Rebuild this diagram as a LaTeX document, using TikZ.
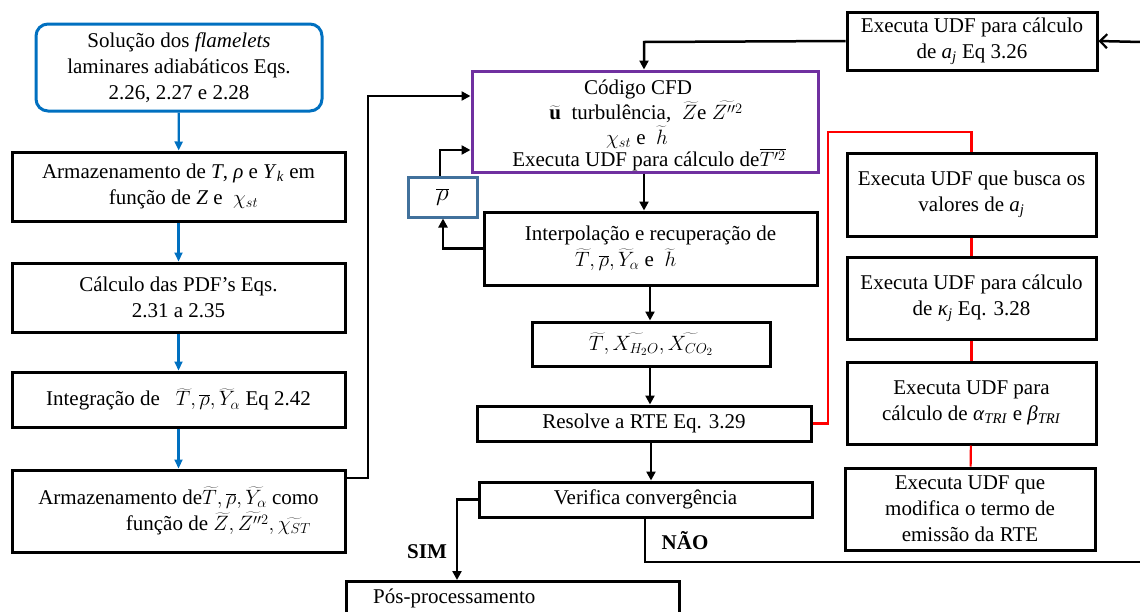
\documentclass[tikz,border=0pt]{standalone}
\usepackage{fontspec}
\setmainfont{Liberation Serif}
\usetikzlibrary{arrows.meta}
\definecolor{myblue}{HTML}{0070C0}
\definecolor{rhoblue}{HTML}{41719C}
\definecolor{mypurple}{HTML}{7030A0}
\definecolor{myred}{HTML}{FF0000}
\tikzset{
  txt/.style={font=\fontsize{21}{26}\selectfont, inner sep=0pt},
  box/.style={txt, draw, line width=3pt, align=center},
  bluebox/.style={box, draw=myblue, rounded corners=12pt},
  rhobox/.style={box, draw=rhoblue},
  cfdbox/.style={box, draw=mypurple},
  conn/.style={line width=2.5pt, -{Triangle[length=9pt,width=9pt]}},
  plainconn/.style={line width=2.5pt},
  blueconn/.style={line width=2.2pt, draw=myblue, -{Triangle[length=9pt,width=8pt]}},
  redconn/.style={line width=2.2pt, draw=myred},
  lbl/.style={font=\fontsize{21}{26}\selectfont\bfseries, inner sep=0pt}
}
\begin{document}
\begin{tikzpicture}[x=1pt,y=-1pt]
\useasboundingbox (0,0) rectangle (1140,611);
\clip (0,0) rectangle (1140,611);
% left column
\node[bluebox, minimum width=286pt, minimum height=87pt] (b1) at (179,67.5)
  {Solução dos \textit{flamelets}\\ laminares adiabáticos Eqs.\\ 2.26, 2.27 e 2.28};
\node[box, minimum width=333pt, minimum height=69pt] (b2) at (178.5,186.5)
  {Armazenamento de \textit{T}, \textit{ρ} e \textit{Y}\textsubscript{\textit{k}} em\\ \hspace*{10pt}função de \textit{Z} e \ $\chi_{st}$};
\node[box, minimum width=333pt, minimum height=69pt] (b3) at (178.5,297.5)
  {Cálculo das PDF’s Eqs.\\ 2.31 a 2.35};
\node[box, minimum width=333pt, minimum height=55pt] (b4) at (178.5,399.5)
  {Integração de \ \ $\widetilde{T},\overline{\rho},\widetilde{Y}_{\alpha}$ Eq 2.42};
\node[box, minimum width=333pt, minimum height=82pt, align=right] (b5) at (178.5,511)
  {Armazenamento de$\widetilde{T},\overline{\rho},\widetilde{Y_{\alpha}}$ como\\ função de $\widetilde{Z},\widetilde{Z''^2},\widetilde{\chi_{ST}}$\hspace*{8pt}};
% middle column
\node[cfdbox, minimum width=346pt, minimum height=101pt] (cfd) at (645,121.5) {};
\node[txt, anchor=base] (c1) at (638,94) {Código CFD};
\node[txt, anchor=base] (c2) at (646,119) {$\widetilde{\mathbf{u}}$\ \ turbulência, \ $\widetilde{Z}$e $\widetilde{Z''^2}$};
\node[txt, anchor=base] (c3) at (637,144) {$\chi_{st}$ e \ $\widetilde{h}$};
\node[txt, anchor=base] (c4) at (649,166) {Executa UDF para cálculo de$\overline{T'^2}$};
\node[rhobox, minimum width=69pt, minimum height=40pt] (rho) at (442.5,197) {\fontsize{25}{26}\selectfont$\overline{\rho}$};
\node[box, minimum width=333pt, minimum height=73pt] (interp) at (650.5,248.5)
  {Interpolação e recuperação de\\ $\widetilde{T},\overline{\rho},\widetilde{Y}_{\alpha}$ e \ $\widetilde{h}$\hspace*{50pt}};
\node[box, minimum width=238pt, minimum height=44pt] (xb) at (651,344)
  {$\widetilde{T},\widetilde{X_{H_2O}},\widetilde{X_{CO_2}}$};
\node[box, minimum width=334pt, minimum height=35pt] (rte) at (644,423.5) {Resolve a RTE Eq. 3.29};
\node[box, minimum width=333pt, minimum height=35pt] (ver) at (645.5,499.5) {Verifica convergência};
\node[box, minimum width=333pt, minimum height=70pt, anchor=north west] (pos) at (345,580) {};
\node[txt, anchor=west] (post) at (373,598) {Pós-processamento};
% right column
\node[box, minimum width=250pt, minimum height=58pt] (aj) at (972,41)
  {Executa UDF para cálculo\\ de \textit{a}\textsubscript{\textit{j}} Eq 3.26};
\node[box, minimum width=249pt, minimum height=83pt] (r1) at (971.5,194.5)
  {Executa UDF que busca os\\ valores de \textit{a}\textsubscript{\textit{j}}};
\node[box, minimum width=249pt, minimum height=82pt] (r2) at (971.5,298)
  {Executa UDF para cálculo\\ de \textit{κ}\textsubscript{\textit{j}} Eq. 3.28};
\node[box, minimum width=249pt, minimum height=82pt] (r3) at (971.5,403)
  {Executa UDF para\\ cálculo de \textit{α}\textsubscript{\textit{TRI}} e \textit{β}\textsubscript{\textit{TRI}}};
\node[box, minimum width=250pt, minimum height=82pt] (r4) at (970,509)
  {Executa UDF que\\ modifica o termo de\\ emissão da RTE};
% labels
\node[lbl] (sim) at (427,552) {SIM};
\node[lbl] (nao) at (685,541) {NÃO};
% edge coordinates
\coordinate (eTop) at (1141,42);
\coordinate (eBot) at (1141,562);
% blue connectors
\draw[blueconn] (b1) -- (b2);
\draw[blueconn] (b2) -- (b3);
\draw[blueconn] (b3) -- (b4);
\draw[blueconn] (b4) -- (b5);
% black connectors
\draw[conn] (b5.east |- 0,478) -- (368,478) -- (368,96) -- (cfd.west |- 0,96);
\draw[conn] (aj.west) -- (644,42) -- (cfd.north -| 644,0);
\draw[line width=2.5pt, -{Straight Barb[length=7pt,width=14pt,line width=2.2pt]}] (eTop) -- (aj.east);
\draw[conn] (cfd.south -| 644,0) -- (interp.north -| 644,0);
\draw[conn] (interp.west) -- (443,248.5) -- (rho.south -| 443,0);
\draw[conn] (rho.north -| 440,0) -- (440,150) -- (cfd.west |- 0,150);
\draw[conn] (interp.south -| 650,0) -- (xb.north -| 650,0);
\draw[conn] (xb.south -| 650,0) -- (rte.north -| 650,0);
\draw[conn] (rte.south -| 651,0) -- (ver.north -| 651,0);
\draw[conn] (ver.west) -- (457,499.5) -- (pos.north -| 457,0);
\draw[plainconn] (ver.south -| 645,0) -- (645,562) -- (eBot);
% red connectors
\draw[redconn] (rte.east) -- (828,423.5) -- (828,132) -- (971.5,132) -- (r1.north);
\draw[redconn] (r1) -- (r2);
\draw[redconn] (r2) -- (r3);
\draw[redconn] (r3) -- (r4);
\end{tikzpicture}
\end{document}
